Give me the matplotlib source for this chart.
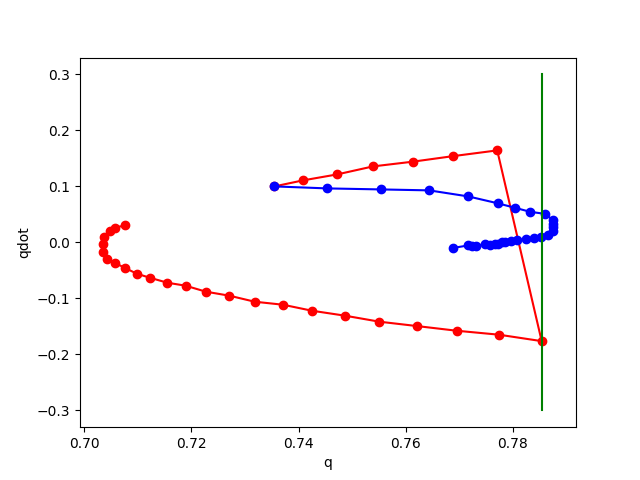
import numpy as np
import matplotlib
matplotlib.use("Agg")
import matplotlib.pyplot as plt

red_q = [0.7075, 0.7058, 0.7047, 0.7036, 0.7034, 0.7034, 0.7042, 0.7058, 0.7075,
         0.7098, 0.7122, 0.7155, 0.7189, 0.7227, 0.7271, 0.7318, 0.7371, 0.7425,
         0.7487, 0.7551, 0.7622, 0.7695, 0.7774, 0.7854,
         0.7771, 0.7689, 0.7613, 0.7539, 0.7472, 0.7408, 0.7355]
red_qdot = [0.0304, 0.0263, 0.0202, 0.0095, -0.0023, -0.0173, -0.0304, -0.0370, -0.0452,
            -0.0559, -0.0630, -0.0720, -0.0773, -0.0880, -0.0952, -0.1059, -0.1113, -0.1220,
            -0.1309, -0.1416, -0.1495, -0.1577, -0.1648, -0.1763,
            0.1643, 0.1541, 0.1441, 0.1357, 0.1214, 0.1107, 0.1000]

blue_q = [0.7355, 0.7454, 0.7554, 0.7644, 0.7717, 0.7773, 0.7805, 0.7833, 0.7861,
          0.7875, 0.7876, 0.7876, 0.7875, 0.7865, 0.7852, 0.7839, 0.7824, 0.7807,
          0.7796, 0.7786, 0.7779, 0.7773, 0.7766, 0.7758, 0.7749, 0.7732, 0.7724,
          0.7717, 0.7689]
blue_qdot = [0.1000, 0.0964, 0.0946, 0.0929, 0.0821, 0.0696, 0.0616, 0.0545, 0.0509,
             0.0393, 0.0321, 0.0268, 0.0196, 0.0134, 0.0098, 0.0080, 0.0063, 0.0036,
             0.0027, 0.0009, 0.0000, -0.0036, -0.0036, -0.0045, -0.0027, -0.0063, -0.0063,
             -0.0054, -0.0098]

green_q = [np.pi / 4, np.pi / 4]
green_qdot = [-0.3, 0.3]

fig, ax = plt.subplots(figsize=(6.4, 4.8), dpi=100)
ax.plot(red_q, red_qdot, 'o-', color='red')
ax.plot(blue_q, blue_qdot, 'o-', color='blue')
ax.plot(green_q, green_qdot, '-', color='green')
ax.set_xlabel('q')
ax.set_ylabel('qdot')
fig.savefig('out.png', dpi=100)
